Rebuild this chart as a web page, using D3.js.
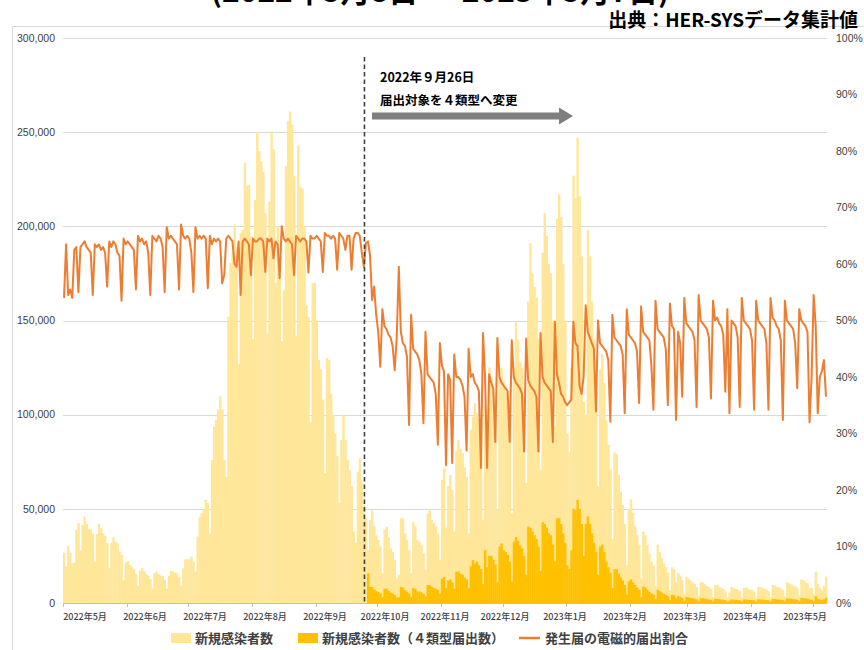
<!DOCTYPE html>
<html><head><meta charset="utf-8">
<script src="https://cdn.jsdelivr.net/npm/d3@7"></script>
<style>
html,body{margin:0;padding:0;background:#fff;}
svg{display:block;}
</style></head><body>
<svg id="chart" width="864" height="650"></svg>
<script>
// Daily series start dates
const firstDay = "2022-05-01";
const firstDay4Type = "2022-09-26";

// 新規感染者数 (thousands of people per day)
const newCasesThousands = [
  // 2022-05
  26.7,19.3,30.3,26.5,21.0,21.5,38.8,42.5,28.0,41.5,45.8,42.0,39.3,39.0,37.0,22.0,36.6,42.0,39.8,37.0,35.6,31.8,18.5,32.0,35.0,32.6,31.8,27.3,25.5,11.9,21.4,
  // 2022-06
  22.3,20.2,19.3,18.0,15.4,9.0,17.2,18.5,17.0,15.4,14.3,12.6,7.6,15.8,16.7,15.4,14.7,14.3,12.3,7.6,14.3,17.2,16.7,16.1,15.8,13.6,9.0,18.5,23.2,23.2,
  // 2022-07
  23.2,24.6,22.0,16.7,35.3,45.9,47.7,49.5,54.8,53.0,36.9,75.9,93.6,97.3,102.7,109.8,102.7,75.9,67.0,152.0,180.5,186.0,201.0,189.0,127.0,196.6,198.0,233.7,221.5,222.0,194.8,
  // 2022-08
  140.0,214.0,250.0,240.0,234.6,229.0,207.0,143.0,213.0,250.0,241.0,170.0,200.0,174.0,139.0,166.0,232.0,256.0,261.0,254.0,226.6,141.7,243.0,221.0,220.0,200.0,158.0,152.0,96.0,170.0,170.0,
  // 2022-09
  150.0,129.0,124.0,108.0,69.0,130.0,129.0,111.0,100.0,90.0,78.0,53.0,86.5,100.0,86.5,76.0,70.7,62.0,38.0,32.0,69.8,76.8,64.0,52.0,45.0,28.0,44.0,49.0,41.0,36.0,
  // 2022-10
  33.5,30.0,15.8,38.8,40.6,35.0,29.0,27.0,22.9,13.0,15.0,45.0,45.0,37.0,33.5,28.0,15.8,43.0,40.6,33.5,32.6,30.9,26.4,17.6,47.7,49.5,44.0,42.4,40.6,37.0,22.9,
  // 2022-11
  65.4,71.6,40.0,62.0,68.0,60.0,38.0,81.0,86.7,82.0,79.6,72.0,67.0,37.0,92.0,99.0,106.0,101.0,98.0,90.0,44.0,105.0,85.0,125.0,120.0,112.0,100.0,49.5,120.0,125.0,
  // 2022-12
  118.0,112.0,110.0,95.0,47.7,125.0,149.0,140.0,128.0,125.0,110.0,63.7,160.0,191.0,175.0,168.0,162.0,140.0,70.7,186.0,207.0,195.0,180.0,175.0,150.0,93.8,204.0,217.0,205.0,180.0,150.0,
  // 2023-01
  90.0,80.0,125.0,227.0,215.0,247.0,216.0,184.0,107.0,100.0,198.0,184.0,160.0,140.0,118.0,62.0,124.0,132.0,117.0,97.0,84.0,71.0,34.0,80.0,79.0,68.0,59.0,52.0,42.0,20.0,50.0,
  // 2023-02
  55.0,48.0,41.0,36.0,31.0,13.0,38.0,36.0,31.0,26.0,22.0,20.0,9.0,31.0,27.0,24.0,21.0,19.0,16.0,6.5,19.0,18.0,11.0,16.0,14.5,12.0,5.0,14.0,
  // 2023-03
  13.0,12.0,11.0,10.0,8.5,3.8,11.0,11.0,10.0,9.0,8.5,7.5,3.2,9.5,9.5,8.7,8.0,7.5,6.5,3.0,5.5,8.5,8.0,7.5,7.2,6.2,2.8,8.0,8.3,7.6,7.0,
  // 2023-04
  6.8,6.0,2.8,8.7,8.5,8.0,7.5,7.2,6.3,3.2,9.5,9.3,8.6,8.2,7.8,6.8,3.5,11.0,10.5,9.8,9.2,8.8,7.8,4.0,12.5,12.0,11.0,10.5,8.0,8.0,
  // 2023-05
  4.5,16.6,10.0,8.0,7.0,9.0,14.0
];

// 新規感染者数（４類型届出数）(thousands per day, from 2022-09-26)
const newCases4TypeThousands = [
  // 2022-09
  15.7,8.5,8.5,7.2,6.3,
  // 2022-10
  5.8,5.0,3.2,7.6,7.6,6.5,5.5,5.0,4.2,2.8,3.2,8.5,8.2,6.8,6.0,5.0,3.2,8.0,7.5,6.2,6.0,5.6,4.8,3.5,9.5,9.5,8.5,8.0,7.5,6.8,4.8,
  // 2022-11
  13.0,13.8,8.0,12.0,12.5,11.0,7.6,16.6,16.8,15.5,15.0,13.5,12.5,7.8,19.5,22.8,21.0,22.0,20.0,18.0,10.0,28.0,19.0,25.0,25.0,23.0,20.5,11.0,30.0,31.6,
  // 2022-12
  28.0,27.0,25.5,22.0,11.5,32.6,35.0,33.0,30.5,29.0,25.0,15.0,40.6,40.0,38.0,36.0,34.0,30.0,17.0,43.0,42.0,40.0,37.0,36.0,31.0,22.0,45.0,45.0,42.0,37.0,32.0,
  // 2023-01
  20.0,18.0,28.0,50.0,49.5,54.8,50.0,42.0,25.0,42.0,46.0,42.0,37.0,32.0,27.0,15.0,30.0,31.0,27.0,22.0,19.0,16.0,8.0,18.0,18.0,15.5,13.5,12.0,9.5,4.5,11.5,
  // 2023-02
  12.5,11.0,9.5,8.2,7.0,3.0,8.8,8.2,7.0,6.0,5.0,4.5,2.0,7.0,6.2,5.5,4.8,4.3,3.6,1.5,4.3,4.1,2.5,3.6,3.3,2.7,1.1,3.2,
  // 2023-03
  3.0,2.7,2.5,2.3,1.9,0.9,2.5,2.5,2.3,2.0,1.9,1.7,0.7,2.2,2.2,2.0,1.8,1.7,1.5,0.7,1.2,1.9,1.8,1.7,1.6,1.4,0.6,1.8,1.9,1.7,1.6,
  // 2023-04
  1.5,1.4,0.6,2.0,1.9,1.8,1.7,1.6,1.4,0.7,2.1,2.1,1.9,1.8,1.7,1.5,0.8,2.4,2.3,2.2,2.0,1.9,1.7,0.9,2.7,2.6,2.4,2.3,1.8,1.8,
  // 2023-05
  1.0,3.6,2.2,1.8,1.6,2.0,3.0
];

// 発生届の電磁的届出割合 (% per day)
const electronicRatePct = [
  // 2022-05
  54.0,63.5,54.5,55.5,54.0,62.5,63.0, 55.0,63.0,63.5,64.0,63.0,62.5,62.0, 54.5,63.5,63.0,63.5,62.5,63.0,62.0, 56.0,64.0,63.0,64.0,63.5,62.0,61.5, 53.5,64.5,63.5,
  // 2022-06
  64.0,63.5,63.0,62.5, 55.5,65.0,64.0,64.5,63.5,64.0,62.0, 54.5,65.0,64.5,64.0,65.0,64.5,63.0, 55.0,66.5,64.5,65.0,64.5,64.0,63.5, 55.5,67.0,65.0,64.5,65.0,
  // 2022-07
  64.5,62.0, 55.0,66.5,64.5,65.0,64.5,65.0,64.5, 55.7,65.0,63.5,64.5,64.0,64.5,64.0, 56.6,58.0,64.5,65.0,64.5,64.0,60.0, 59.5,64.0,54.5,64.0,64.5,64.0,63.5, 58.0,
  // 2022-08
  64.5,64.0,64.0,64.5,64.5,64.0, 58.6,64.5,64.0,64.5,61.0,64.0,63.5, 57.5,66.7,64.5,64.0,64.5,64.0,63.5, 58.0,65.0,64.5,64.0,64.5,64.5,64.0, 58.5,65.0,64.5,64.5,
  // 2022-09
  65.0,64.5,64.0, 58.6,65.5,65.0,65.0,64.5,65.0,64.5, 59.0,65.5,65.0,64.5,62.5,65.0,65.0, 59.0,64.5,65.5,65.5,65.0,62.0,59.5, 63.7,64.0,61.5,53.6,56.0,51.0,
  // 2022-10
  48.0, 41.8,52.0,49.0,48.5,47.5,47.0,45.5, 41.2,47.0,59.5,48.0,46.0,45.5,43.5, 31.5,51.0,45.0,44.5,44.0,43.0,40.5, 31.8,48.0,40.5,40.0,39.5,39.0,37.0, 28.0,46.0,
  // 2022-11
  42.0,41.0,24.4,40.5,39.5, 24.8,44.0,40.0,40.0,39.5,38.5,36.5, 27.0,45.0,40.0,40.5,39.0,38.5,37.5, 23.9,47.8,40.0,23.9,40.5,39.0,38.0, 28.5,46.9,40.0,39.0,
  // 2022-12
  38.5,38.0,37.5, 28.5,46.5,40.0,39.0,38.5,38.0,37.0, 26.8,46.8,39.5,38.5,38.0,37.5,36.5, 26.8,47.8,40.0,39.0,38.5,38.0,37.5, 28.5,49.8,40.5,39.0,37.0,36.5,35.5,
  // 2023-01
  35.0,35.5,36.0,49.8,46.0,45.5,38.5, 37.0,40.0,52.7,48.0,47.0,46.0,45.0, 33.9,50.0,46.0,45.5,45.0,44.5,43.0, 32.1,51.0,47.0,46.5,46.0,45.5,44.0, 33.6,52.0,47.5,
  // 2023-02
  47.0,46.5,46.0,44.5, 35.4,52.5,48.0,47.5,47.0,46.5,42.0, 34.2,53.5,48.5,48.0,47.5,47.0,45.0, 35.0,53.0,49.0,48.5,32.4,48.0,46.0, 36.5,54.0,49.5,
  // 2023-03
  49.0,48.5,48.0,46.5, 34.7,54.5,50.0,49.5,49.0,48.5,47.0, 36.2,53.5,50.0,50.5,49.5,49.0,47.5, 37.4,52.0,33.6,50.0,49.5,49.0,47.0, 34.7,54.0,50.0,49.5,49.0,48.5,
  // 2023-04
  46.5, 34.2,53.5,50.0,49.5,49.0,48.5,46.0, 34.2,54.0,50.5,50.0,49.0,48.5,46.5, 32.4,53.5,50.0,49.5,49.0,48.5,46.0, 38.0,52.0,50.0,49.5,49.0,48.0,32.0, 40.0,
  // 2023-05
  54.5,49.0,33.6,40.0,41.0,43.0,36.5
];

const leftTicks = [0, 50000, 100000, 150000, 200000, 250000, 300000];
const rightTicks = [0, 10, 20, 30, 40, 50, 60, 70, 80, 90, 100];
const monthLabels = ["2022年5月","2022年6月","2022年7月","2022年8月","2022年9月","2022年10月","2022年11月","2022年12月","2023年1月","2023年2月","2023年3月","2023年4月","2023年5月"];
const legendLabels = ["新規感染者数", "新規感染者数（４類型届出数）", "発生届の電磁的届出割合"];
const periodText = "(2022年5月8日 ～ 2023年5月7日)";
const sourceText = "出典：HER-SYSデータ集計値";
const changeNote = ["2022年９月26日", "届出対象を４類型へ変更"];
const changeDay = "2022-09-26";

// ---- layout & styles ----
const COL_TOTAL = "#FFE699", COL_4TYPE = "#FFC000", COL_RATE = "#ED7D31";
const CJK = "'Noto Sans CJK JP','Noto Sans',sans-serif";
const NUM = "'Liberation Sans Narrow','Liberation Sans',Arial,sans-serif";
const plot = {left: 63, right: 827, top: 38, bottom: 603};

const svg = d3.select("#chart");
const parse = d3.timeParse("%Y-%m-%d");
const start = parse(firstDay);
const start4 = parse(firstDay4Type);
const end = d3.timeDay.offset(start, newCasesThousands.length);

const days = newCasesThousands.map((v, i) => ({date: d3.timeDay.offset(start, i), total: v * 1000, rate: electronicRatePct[i]}));
const days4 = newCases4TypeThousands.map((v, i) => ({date: d3.timeDay.offset(start4, i), value: v * 1000}));

const x = d3.scaleTime().domain([start, end]).range([plot.left, plot.right]);
const y = d3.scaleLinear().domain([0, 300000]).range([plot.bottom, plot.top]);
const yR = d3.scaleLinear().domain([0, 100]).range([plot.bottom, plot.top]);
const dayW = d => x(d3.timeDay.offset(d, 1)) - x(d);

// chart frame
svg.append("path").attr("d", "M12.5,650 V26.5 H864")
  .attr("fill", "none").attr("stroke", "#d9d9d9").attr("stroke-width", 1);

// period heading (its upper part lies above the page edge)
svg.append("text").attr("x", 440).attr("y", 2).attr("text-anchor", "middle")
  .attr("font-family", CJK).attr("font-weight", 700).attr("font-size", 30).attr("fill", "#000")
  .text(periodText);

// source
svg.append("text").attr("x", 858).attr("y", 27).attr("text-anchor", "end")
  .attr("font-family", CJK).attr("font-weight", 700).attr("font-size", 19).attr("fill", "#000")
  .text(sourceText);

// gridlines
svg.append("g").selectAll("line").data(leftTicks.filter(t => t > 0)).join("line")
  .attr("x1", plot.left).attr("x2", plot.right)
  .attr("y1", d => Math.round(y(d)) + 0.5).attr("y2", d => Math.round(y(d)) + 0.5)
  .attr("stroke", "#d9d9d9").attr("stroke-width", 1);

// left axis labels
svg.append("g").selectAll("text").data(leftTicks).join("text")
  .attr("x", 55).attr("y", d => y(d)).attr("dy", "0.35em").attr("text-anchor", "end")
  .attr("font-family", NUM).attr("font-size", 10.5).attr("fill", "#404040")
  .text(d => d3.format(",")(d));

// right axis labels
svg.append("g").selectAll("text").data(rightTicks).join("text")
  .attr("x", 836).attr("y", d => yR(d)).attr("dy", "0.35em").attr("text-anchor", "start")
  .attr("font-family", NUM).attr("font-size", 10.5).attr("fill", "#404040")
  .text(d => d + "%");

// bars: total
svg.append("g").selectAll("rect").data(days).join("rect")
  .attr("x", d => x(d.date)).attr("width", d => dayW(d.date) + 0.35)
  .attr("y", d => y(d.total)).attr("height", d => y(0) - y(d.total))
  .attr("fill", COL_TOTAL);

// bars: 4-type notifications
svg.append("g").selectAll("rect").data(days4).join("rect")
  .attr("x", d => x(d.date)).attr("width", d => dayW(d.date) + 0.35)
  .attr("y", d => y(d.value)).attr("height", d => y(0) - y(d.value))
  .attr("fill", COL_4TYPE);

// baseline and month tick marks
svg.append("line").attr("x1", plot.left).attr("x2", plot.right)
  .attr("y1", plot.bottom + 0.5).attr("y2", plot.bottom + 0.5)
  .attr("stroke", "#bfbfbf");
svg.append("g").selectAll("line").data([start, ...d3.timeMonth.range(d3.timeDay.offset(start, 1), end)]).join("line")
  .attr("x1", d => Math.round(x(d)) + 0.5).attr("x2", d => Math.round(x(d)) + 0.5)
  .attr("y1", plot.bottom).attr("y2", plot.bottom + 4)
  .attr("stroke", "#bfbfbf");

// month labels
const xLab = d3.scalePoint().domain(monthLabels).range([85, 805]);
svg.append("g").selectAll("text").data(monthLabels).join("text")
  .attr("x", d => xLab(d)).attr("y", 620).attr("text-anchor", "middle")
  .attr("font-family", CJK).attr("font-weight", 500).attr("font-size", 9).attr("fill", "#404040")
  .text(d => d);

// electronic notification rate line
const line = d3.line().x(d => x(d.date) + dayW(d.date) / 2).y(d => yR(d.rate));
svg.append("path").datum(days).attr("d", line)
  .attr("fill", "none").attr("stroke", COL_RATE).attr("stroke-width", 2).attr("stroke-linejoin", "round");

// change-of-rule marker
const xc = x(parse(changeDay)) - 2.5;
svg.append("line").attr("x1", xc).attr("x2", xc).attr("y1", 57).attr("y2", plot.bottom)
  .attr("stroke", "#404040").attr("stroke-width", 1.6).attr("stroke-dasharray", "4.5,3");
svg.append("g").selectAll("text").data(changeNote).join("text")
  .attr("x", 380).attr("y", (d, i) => 82 + i * 23)
  .attr("font-family", CJK).attr("font-weight", 700).attr("font-size", 12.5).attr("fill", "#000")
  .text(d => d);
svg.append("path")
  .attr("d", "M372,112.5 H559 V107.5 L573,116 L559,124.5 V119.5 H372 Z")
  .attr("fill", "#7f7f7f");

// legend
const lg = svg.append("g").attr("font-family", CJK).attr("font-weight", 700).attr("font-size", 13).attr("fill", "#404040");
lg.append("rect").attr("x", 171).attr("y", 633).attr("width", 20).attr("height", 10).attr("fill", COL_TOTAL);
lg.append("text").attr("x", 195).attr("y", 643).text(legendLabels[0]);
lg.append("rect").attr("x", 298).attr("y", 633).attr("width", 20).attr("height", 10).attr("fill", COL_4TYPE);
lg.append("text").attr("x", 322).attr("y", 643).text(legendLabels[1]);
lg.append("line").attr("x1", 519).attr("x2", 540).attr("y1", 638).attr("y2", 638).attr("stroke", COL_RATE).attr("stroke-width", 2.5);
lg.append("text").attr("x", 545).attr("y", 643).text(legendLabels[2]);
</script>
</body></html>
